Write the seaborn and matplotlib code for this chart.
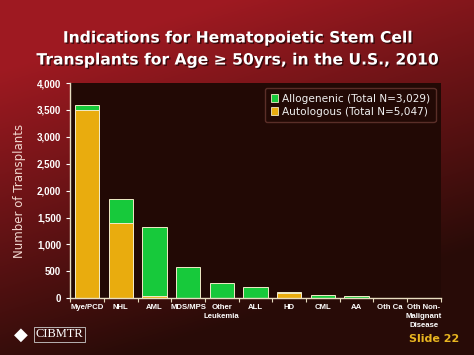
import numpy as np
import pandas as pd
import matplotlib
matplotlib.use("Agg")
import matplotlib.pyplot as plt
import matplotlib.patheffects as pe
from matplotlib.patches import Patch
import seaborn as sns

# data
categories = ["Mye/PCD", "NHL", "AML", "MDS/MPS", "Other\nLeukemia", "ALL", "HD",
              "CML", "AA", "Oth Ca", "Oth Non-\nMalignant\nDisease"]
allogeneic = [90, 460, 1265, 578, 290, 200, 5, 55, 35, 8, 3]
autologous = [3500, 1390, 50, 5, 0, 0, 105, 0, 0, 5, 0]

df = pd.DataFrame({"indication": categories, "allo": allogeneic, "auto": autologous})
df["total"] = df["allo"] + df["auto"]

green = "#17C93B"
gold = "#E9AC0E"
edge = "#F2EBC8"
narrow = "Liberation Sans"

sns.set_style("dark")
fig = plt.figure(figsize=(4.74, 3.55), dpi=100)

# background gradient, red at top fading to dark brown
bg = fig.add_axes([0, 0, 1, 1], zorder=-10)
yy, xx = np.mgrid[0:1:200j, 0:1:200j]
t = np.clip(yy * 1.1 + xx * 0.45 - 0.22, 0, 1)
top_c = np.array([0.62, 0.10, 0.13])
bot_c = np.array([0.16, 0.045, 0.03])
img = top_c[None, None, :] * (1 - t[..., None]) + bot_c[None, None, :] * t[..., None]
bg.imshow(img, aspect="auto", extent=[0, 1, 0, 1], origin="upper")
bg.axis("off")

ax = fig.add_axes([0.148, 0.160, 0.782, 0.606])
ax.set_facecolor("#220905")

sns.barplot(data=df, x="indication", y="total", color=green, saturation=1,
            width=0.72, edgecolor=edge, linewidth=0.7, ax=ax)
sns.barplot(data=df, x="indication", y="auto", color=gold, saturation=1,
            width=0.72, edgecolor=edge, linewidth=0.7, ax=ax)

ax.set_ylim(0, 4000)
ax.set_xlim(-0.5, len(categories) - 0.5)
ax.set_yticks(range(0, 4001, 500))
ax.set_yticklabels([f"{v:,}" for v in range(0, 4001, 500)])
ax.grid(False)
for side in ["top", "right"]:
    ax.spines[side].set_visible(False)
for side in ["left", "bottom"]:
    ax.spines[side].set_color("#E8DDC0")
    ax.spines[side].set_linewidth(1.0)

ax.tick_params(axis="y", colors="white", labelsize=7, length=3, width=0.8,
               direction="out", left=True)
ax.tick_params(axis="x", which="major", length=0, labelsize=5.6, colors="white", pad=4)
ax.set_xticks(np.arange(-0.5, len(categories), 1), minor=True)
ax.tick_params(axis="x", which="minor", length=3, width=0.8, color="#E8DDC0",
               direction="out", bottom=True)
for lab in ax.get_yticklabels() + ax.get_xticklabels():
    lab.set_fontweight("bold")
    lab.set_color("white")
    lab.set_family(narrow)
for lab in ax.get_xticklabels():
    lab.set_verticalalignment("top")
    lab.set_linespacing(1.4)

ax.set_xlabel("")
ax.set_ylabel("Number of Transplants", color="#F2D8D0", fontsize=8.5, labelpad=8)

handles = [Patch(facecolor=green, edgecolor=edge, linewidth=0.6),
           Patch(facecolor=gold, edgecolor=edge, linewidth=0.6)]
leg = ax.legend(handles, ["Allogenenic (Total N=3,029)", "Autologous (Total N=5,047)"],
                loc="upper right", fontsize=7.6, frameon=True, handlelength=0.7,
                handleheight=0.7, handletextpad=0.4, borderpad=0.5,
                labelspacing=0.3, bbox_to_anchor=(1.0, 1.0))
leg.get_frame().set_facecolor("#220905")
leg.get_frame().set_edgecolor("#5A2E28")
leg.get_frame().set_alpha(1)
for txt in leg.get_texts():
    txt.set_color("#F0F0F0")

shadow = [pe.withSimplePatchShadow(offset=(1, -1), shadow_rgbFace="black", alpha=0.6)]
fig.text(0.5, 0.893, "Indications for Hematopoietic Stem Cell", ha="center", va="center",
         fontsize=11.2, fontweight="bold", color="white", path_effects=shadow)
fig.text(0.5, 0.831, "Transplants for Age \u2265 50yrs, in the U.S., 2010", ha="center",
         va="center", fontsize=11.2, fontweight="bold", color="white", path_effects=shadow)

# logo and slide number
fig.text(0.045, 0.058, "\u25C6", fontsize=13, color="white", ha="center", va="center")
fig.text(0.075, 0.058, "CIBMTR", fontsize=9, color="white", family="Liberation Serif",
         ha="left", va="center",
         bbox=dict(boxstyle="square,pad=0.15", facecolor="none", edgecolor="#CCCCCC", linewidth=0.6))
fig.text(0.968, 0.045, "Slide 22", fontsize=8, fontweight="bold", color="#E8B520",
         ha="right", va="center")

fig.savefig("out.png", dpi=100)
